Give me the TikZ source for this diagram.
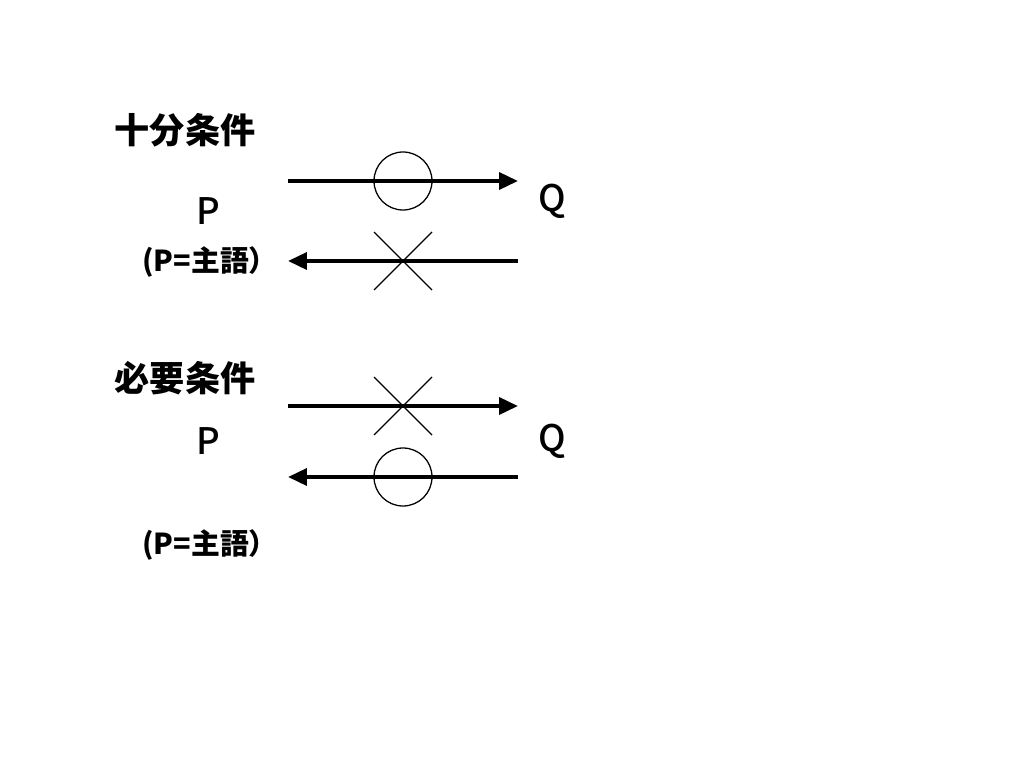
\documentclass[tikz,border=0pt]{standalone}
\usepackage{fontspec}
\setmainfont{Noto Sans CJK JP}
\newfontfamily\pqfont{Noto Sans CJK JP Medium}
\usetikzlibrary{arrows.meta}

\begin{document}
\begin{tikzpicture}[x=0.025cm,y=-0.025cm,
  arr/.style={line width=2.8pt,-{Triangle[length=13.5pt,width=12pt]}},
  sign/.style={line width=0.9pt},
  title/.style={font=\bfseries\fontsize{25}{30}\selectfont},
  var/.style={font=\pqfont\fontsize{26}{30}\selectfont},
  note/.style={font=\bfseries\fontsize{20.5}{24}\selectfont}]
  \useasboundingbox (0,0) rectangle (1024,768);

  % sufficient condition
  \node[title] (suff) at (185,130) {十分条件};
  \node[var] (p1) at (208,211) {P};
  \node[var] (q1) at (552,201) {Q};
  \node[note] (sub1) at (210,262) {(P=主語）};
  \coordinate (a1l) at (288,181);
  \coordinate (a1r) at (518,181);
  \coordinate (b1l) at (288,261);
  \coordinate (b1r) at (518,261);
  \draw[arr] (a1l) -- (a1r);
  \draw[arr] (b1r) -- (b1l);
  \draw[sign] (403,181) circle (29);
  \draw[sign] (374,232) -- (432,290) (374,290) -- (432,232);

  % necessary condition
  \node[title] (nec) at (185,378) {必要条件};
  \node[var] (p2) at (208,441) {P};
  \node[var] (q2) at (552,441) {Q};
  \node[note] (sub2) at (210,545) {(P=主語）};
  \coordinate (a2l) at (288,406);
  \coordinate (a2r) at (518,406);
  \coordinate (b2l) at (288,477);
  \coordinate (b2r) at (518,477);
  \draw[arr] (a2l) -- (a2r);
  \draw[arr] (b2r) -- (b2l);
  \draw[sign] (374,377) -- (432,435) (374,435) -- (432,377);
  \draw[sign] (403,477) circle (29);
\end{tikzpicture}
\end{document}
